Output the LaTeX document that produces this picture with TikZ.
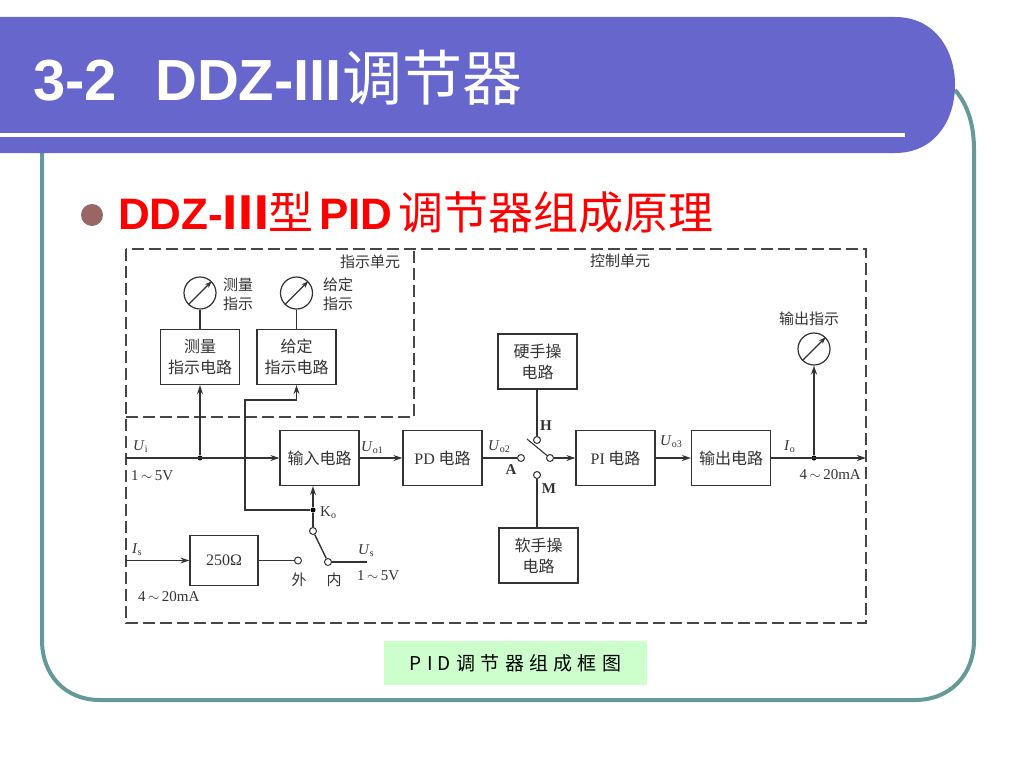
\documentclass[tikz,border=0pt]{standalone}
\usepackage{fontspec}
\usetikzlibrary{arrows.meta}
\setmainfont{Liberation Serif}
\setsansfont{Liberation Sans}
\newfontfamily\cjk{Noto Sans CJK SC}
\newfontfamily\cjkwide[LetterSpace=28]{Noto Sans CJK SC}
\newcommand{\sigvar}[2]{\textit{#1}\raisebox{-2pt}{\fontsize{10}{10}\selectfont #2}}
\definecolor{bannerblue}{HTML}{6666CC}
\definecolor{frameteal}{HTML}{669999}
\definecolor{bulletrose}{HTML}{996666}
\definecolor{capgreen}{HTML}{CCFFCC}
\definecolor{inkgray}{HTML}{333333}
\tikzset{
  blockbox/.style={draw=inkgray,line width=1.2pt,minimum width=79pt,minimum height=55pt,inner sep=0pt,align=center,text=inkgray,font=\fontsize{16}{21}\selectfont\cjk},
  dial/.style={draw=inkgray,line width=1.2pt,circle,minimum size=32pt,inner sep=0pt},
  dotpin/.style={circle,fill=black,minimum size=5pt,inner sep=0pt},
  openpin/.style={circle,draw=inkgray,fill=white,line width=1pt,minimum size=7pt,inner sep=0pt},
  tag/.style={inner sep=0pt,text=inkgray,align=center,font=\fontsize{15}{20}\selectfont},
  cjktag/.style={tag,font=\fontsize{15}{19}\selectfont\cjk},
  boldtag/.style={tag,font=\fontsize{15}{15}\selectfont\bfseries},
  dashbox/.style={draw=inkgray!90,line width=1.1pt,dash pattern=on 12pt off 5pt},
  wire/.style={draw=inkgray,line width=1.4pt}
}
\begin{document}
\begin{tikzpicture}[x=1pt,y=-1pt,>={Stealth[length=9pt,width=6pt]}]
  \useasboundingbox (0,0) rectangle (1024,768);
  % slide furniture
  \draw[frameteal,line width=4pt] (42,150)--(42,640) .. controls (42,675) and (65,700) .. (100,700)--(915,700) .. controls (950,700) and (974,675) .. (974,640)--(974,150) .. controls (974,125) and (968,105) .. (955,90);
  \fill[bannerblue] (0,17)--(895,17) .. controls (935,17) and (955,50) .. (955,85) .. controls (955,120) and (935,153) .. (895,153)--(0,153)--cycle;
  \fill[white] (0,133) rectangle (905,137);
  \node[anchor=base west,inner sep=0pt,text=white,font=\fontsize{58}{58}\selectfont\sffamily\bfseries] (title) at (33,100) {3-2\ \ \hspace{6pt}DDZ-III{\cjk\mdseries\fontsize{60}{60}\selectfont 调节器}};
  \fill[bulletrose] (92,215) circle (11);
  \node[anchor=base west,inner sep=0pt,text=red,font=\fontsize{44}{44}\selectfont\sffamily\bfseries] (subtitle) at (118,229) {DDZ-{\cjk\fontsize{45}{45}\selectfont Ⅲ\mdseries 型}\hspace{6pt}PID\hspace{6pt}{\cjk\mdseries\fontsize{45}{45}\selectfont 调节器组成原理}};
  % unit borders
  \draw[dashbox] (126,249) rectangle (866,623);
  \draw[dashbox] (126,417)-|(414,249);
  \node[cjktag] (unitshow) at (370,262) {指示单元};
  \node[cjktag] (unitctrl) at (620,261) {控制单元};
  % blocks
  \node[blockbox] (meas) at (200,357) {测量\\指示电路};
  \node[blockbox] (give) at (296.5,357) {给定\\指示电路};
  \node[blockbox] (input) at (319.5,458) {输入电路};
  \node[blockbox] (pd) at (442.5,458) {{\rmfamily PD} 电路};
  \node[blockbox] (hard) at (537.5,361.5) {硬手操\\电路};
  \node[blockbox] (soft) at (538.5,555.5) {软手操\\电路};
  \node[blockbox] (pi) at (615.5,458) {{\rmfamily PI} 电路};
  \node[blockbox] (out) at (731,458) {输出电路};
  \node[blockbox,minimum width=68pt,minimum height=50pt,font=\fontsize{16}{21}\selectfont] (load) at (224,560.5) {250Ω};
  % dials
  \node[dial] (dialmeas) at (200,293) {};
  \node[dial] (dialgive) at (296.5,293) {};
  \node[dial] (dialout) at (814,349) {};
  \foreach \d in {dialmeas,dialgive,dialout}
    \draw[-{Stealth[length=7pt,width=5pt]},inkgray,line width=1.1pt] (\d.south west)--(\d.north east);
  \node[cjktag] (tagmeas) at (238,294) {测量\\指示};
  \node[cjktag] (taggive) at (338,294) {给定\\指示};
  \node[cjktag] (tagout) at (809,319) {输出指示};
  % pins and free ends
  \coordinate (uin) at (126,458);
  \coordinate (iin) at (126,560.5);
  \coordinate (ioend) at (866,458);
  \coordinate (usend) at (367,562);
  \coordinate (gbend) at (245,400);
  \coordinate (bladetip) at (527,439);
  \node[dotpin] (dotui) at (200,458) {};
  \node[dotpin] (dotk) at (313,510) {};
  \node[dotpin] (dotio) at (814,458) {};
  \node[openpin] (pink) at (313,531) {};
  \node[openpin] (pinin) at (328,562) {};
  \node[openpin] (pinext) at (298,560.5) {};
  \node[openpin] (pina) at (521,458) {};
  \node[openpin] (pinh) at (537,440) {};
  \node[openpin] (pinm) at (537,475) {};
  \node[openpin] (pinb) at (550,458) {};
  % connectors
  \draw[wire] (dialmeas)--(meas);
  \draw[wire] (dialgive)--(give);
  \draw[wire,->] (uin)--(input);
  \draw[wire,->] (dotui)--(meas);
  \draw[wire,line width=1.1pt,->] (dotk)-|(gbend)-|(give);
  \draw[wire,->] (dotk)--(dotk |- input.south);
  \draw[wire] (pink)--(dotk);
  \draw[wire] (pink)--(pinin);
  \draw[wire,line width=1.1pt] (pinin)--(usend);
  \draw[wire] (load)--(pinext);
  \draw[wire,line width=1.1pt,->] (iin)--(load);
  \draw[wire,->] (input)--(pd);
  \draw[wire] (pd)--(pina);
  \draw[wire] (hard.south -| pinh)--(pinh);
  \draw[wire] (soft.north -| pinm)--(pinm);
  \draw[wire,line width=1.1pt] (bladetip)--(pinb);
  \draw[wire,->] (pinb)--(pi);
  \draw[wire,->] (pi)--(out);
  \draw[wire,->] (out)--(ioend);
  \draw[wire,->] (dotio)--(dialout);
  % signal labels
  \node[tag,anchor=west] (lui) at (133,447) {\sigvar{U}{i}};
  \node[tag,anchor=west] (lrange) at (131,476) {1\,$\sim$\,5V};
  \node[tag,anchor=west] (luo) at (361,448) {\sigvar{U}{o1}};
  \node[tag,anchor=west] (lk) at (320,513) {K\raisebox{-2pt}{\fontsize{10}{10}\selectfont o}};
  \node[tag,anchor=west] (lis) at (132,550) {\sigvar{I}{s}};
  \node[tag,anchor=west] (lus) at (358,551) {\sigvar{U}{s}};
  \node[tag,anchor=west] (lusrange) at (357,576) {1\,$\sim$\,5V};
  \node[tag,anchor=west] (lisrange) at (138,597) {4\,$\sim$\,20mA};
  \node[cjktag] (lext) at (299,580) {外};
  \node[cjktag] (lint) at (334,580) {内};
  \node[tag,anchor=west] (luotwo) at (488,447) {\sigvar{U}{o2}};
  \node[boldtag] (la) at (511,470) {A};
  \node[boldtag] (lh) at (546,426) {H};
  \node[boldtag] (lm) at (549,489) {M};
  \node[tag,anchor=west] (luothree) at (660,442) {\sigvar{U}{o3}};
  \node[tag,anchor=west] (lio) at (784,447) {\sigvar{I}{o}};
  \node[tag,anchor=east] (liorange) at (861,475) {4\,$\sim$\,20mA};
  % caption
  \node[fill=capgreen,minimum width=263pt,minimum height=44pt,inner sep=0pt,text=black,font=\fontsize{19}{19}\selectfont\cjkwide] (caption) at (515.5,663) {PID调节器组成框图};
\end{tikzpicture}
\end{document}
